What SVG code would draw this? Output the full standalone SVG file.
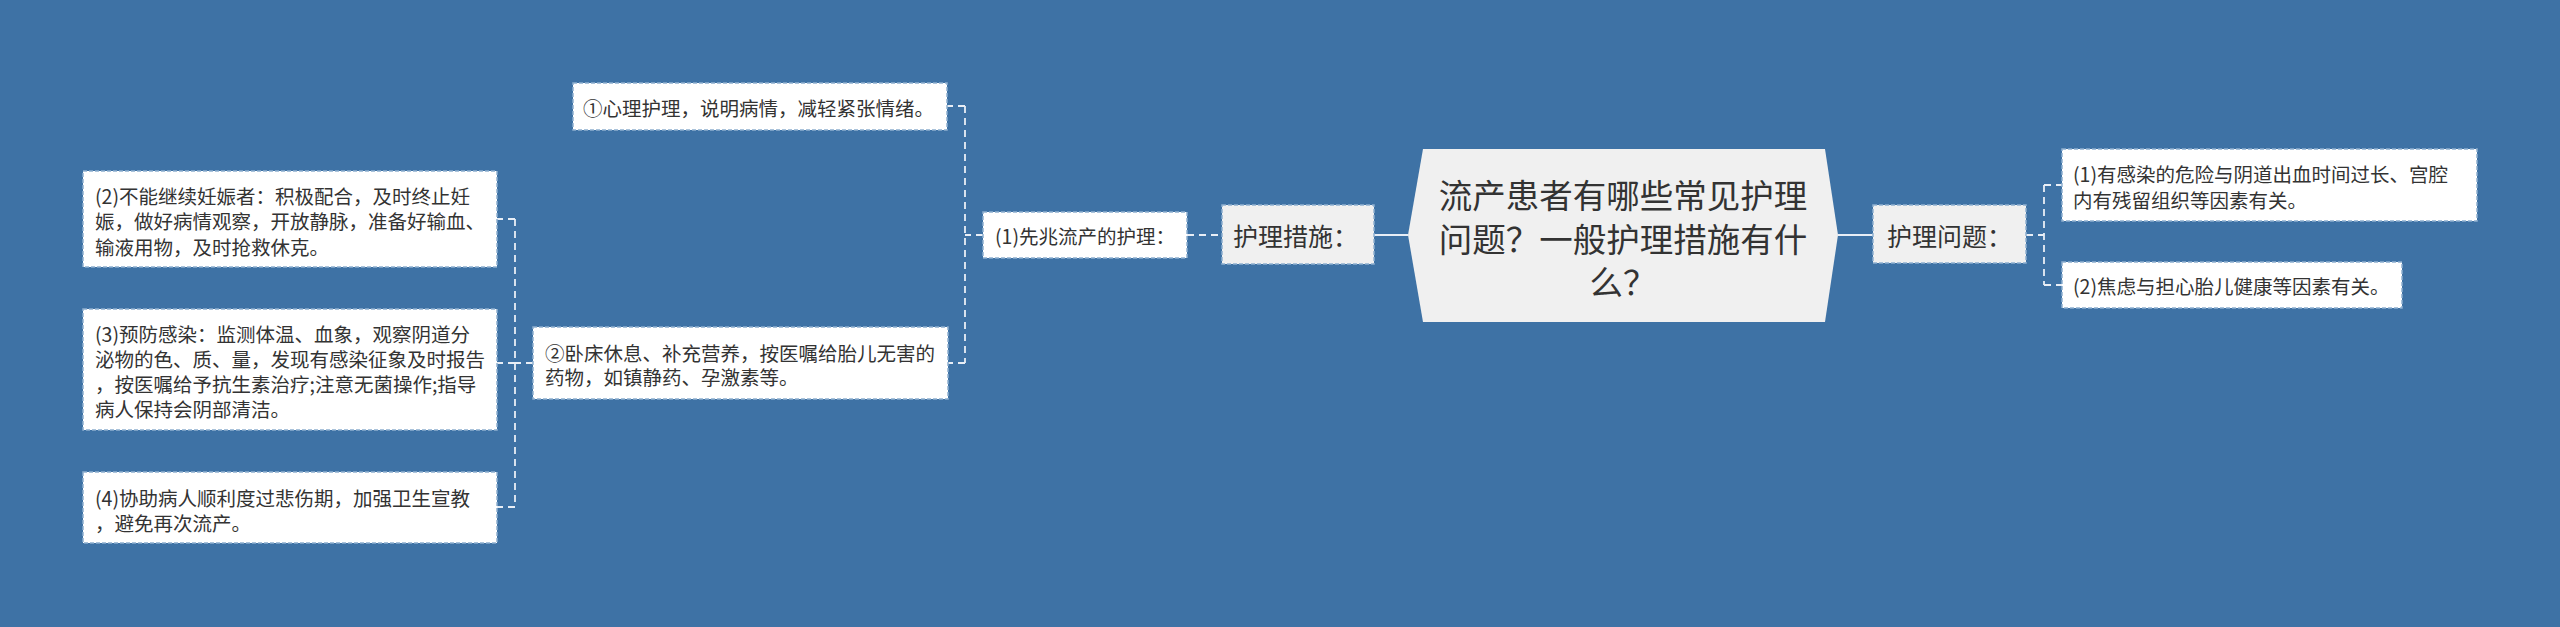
<svg xmlns="http://www.w3.org/2000/svg" width="2560" height="627" viewBox="0 0 2560 627">
<style>
.t{font-family:"Noto Sans CJK SC","Noto Sans",sans-serif;fill:#333333;dominant-baseline:central}
.s{font-size:19.5px}
.m{font-size:25px}
.c{font-size:33.5px;text-anchor:middle}
.leaf{fill:#ffffff;stroke:#8fb0d0;stroke-width:1.5;stroke-dasharray:4 2}
.lvl1{fill:#f0f0f0;stroke:#8fb0d0;stroke-width:1.5;stroke-dasharray:4 2}
.solid{fill:none;stroke:#e8eef6;stroke-width:2}
.dash{fill:none;stroke:#e8eef6;stroke-width:1.8;stroke-dasharray:7 5}
</style>
<rect x="0" y="0" width="2560" height="627" fill="#3e72a5"/>
<g id="connectors">
<path class="solid" d="M1374,235 H1408"/>
<path class="solid" d="M1838,235 H1873"/>
<path class="dash" d="M1187,235 H1222"/>
<path class="dash" d="M2026,235 H2044 M2044,185 V285 M2044,185 H2062 M2044,285 H2062"/>
<path class="dash" d="M983,235 H965 M965,106 V363 M965,106 H947 M965,363 H948"/>
<path class="dash" d="M533,363 H515 M515,219 V507 M515,219 H497 M515,363 H497 M515,507 H497"/>
</g>
<g id="center">
<polygon points="1423,149 1825,149 1838,235 1825,322 1423,322 1408,235" fill="#f0f0f0"/>
<text class="t c" x="1623" y="193">流产患者有哪些常见护理</text>
<text class="t c" x="1623" y="237">问题？一般护理措施有什</text>
<text class="t c" x="1623" y="280">么？</text>
</g>
<g id="node-measures">
<rect class="lvl1" x="1222" y="205" width="152" height="59"/>
<text class="t m" x="1233" y="235">护理措施：</text>
</g>
<g id="node-problems">
<rect class="lvl1" x="1873" y="205" width="153" height="58"/>
<text class="t m" x="1887" y="235">护理问题：</text>
</g>
<g id="node-p1">
<rect class="leaf" x="2062" y="149" width="415" height="72"/>
<text class="t s" x="2073" y="173">(1)有感染的危险与阴道出血时间过长、宫腔</text>
<text class="t s" x="2073" y="199">内有残留组织等因素有关。</text>
</g>
<g id="node-p2">
<rect class="leaf" x="2062" y="262" width="340" height="46"/>
<text class="t s" x="2073" y="285">(2)焦虑与担心胎儿健康等因素有关。</text>
</g>
<g id="node-m1">
<rect class="leaf" x="983" y="212" width="204" height="46"/>
<text class="t s" x="995" y="235">(1)先兆流产的护理：</text>
</g>
<g id="node-m1a">
<rect class="leaf" x="573" y="83" width="374" height="47"/>
<text class="t s" x="583" y="107">①心理护理，说明病情，减轻紧张情绪。</text>
</g>
<g id="node-m1b">
<rect class="leaf" x="533" y="327" width="415" height="72"/>
<text class="t s" x="545" y="352">②卧床休息、补充营养，按医嘱给胎儿无害的</text>
<text class="t s" x="545" y="376">药物，如镇静药、孕激素等。</text>
</g>
<g id="node-m2">
<rect class="leaf" x="83" y="171" width="414" height="96"/>
<text class="t s" x="95" y="195">(2)不能继续妊娠者：积极配合，及时终止妊</text>
<text class="t s" x="95" y="220">娠，做好病情观察，开放静脉，准备好输血、</text>
<text class="t s" x="95" y="246">输液用物，及时抢救休克。</text>
</g>
<g id="node-m3">
<rect class="leaf" x="83" y="309" width="414" height="121"/>
<text class="t s" x="95" y="333">(3)预防感染：监测体温、血象，观察阴道分</text>
<text class="t s" x="95" y="358">泌物的色、质、量，发现有感染征象及时报告</text>
<text class="t s" x="95" y="383">，按医嘱给予抗生素治疗;注意无菌操作;指导</text>
<text class="t s" x="95" y="408">病人保持会阴部清洁。</text>
</g>
<g id="node-m4">
<rect class="leaf" x="83" y="472" width="414" height="71"/>
<text class="t s" x="95" y="497">(4)协助病人顺利度过悲伤期，加强卫生宣教</text>
<text class="t s" x="95" y="522">，避免再次流产。</text>
</g>
</svg>
